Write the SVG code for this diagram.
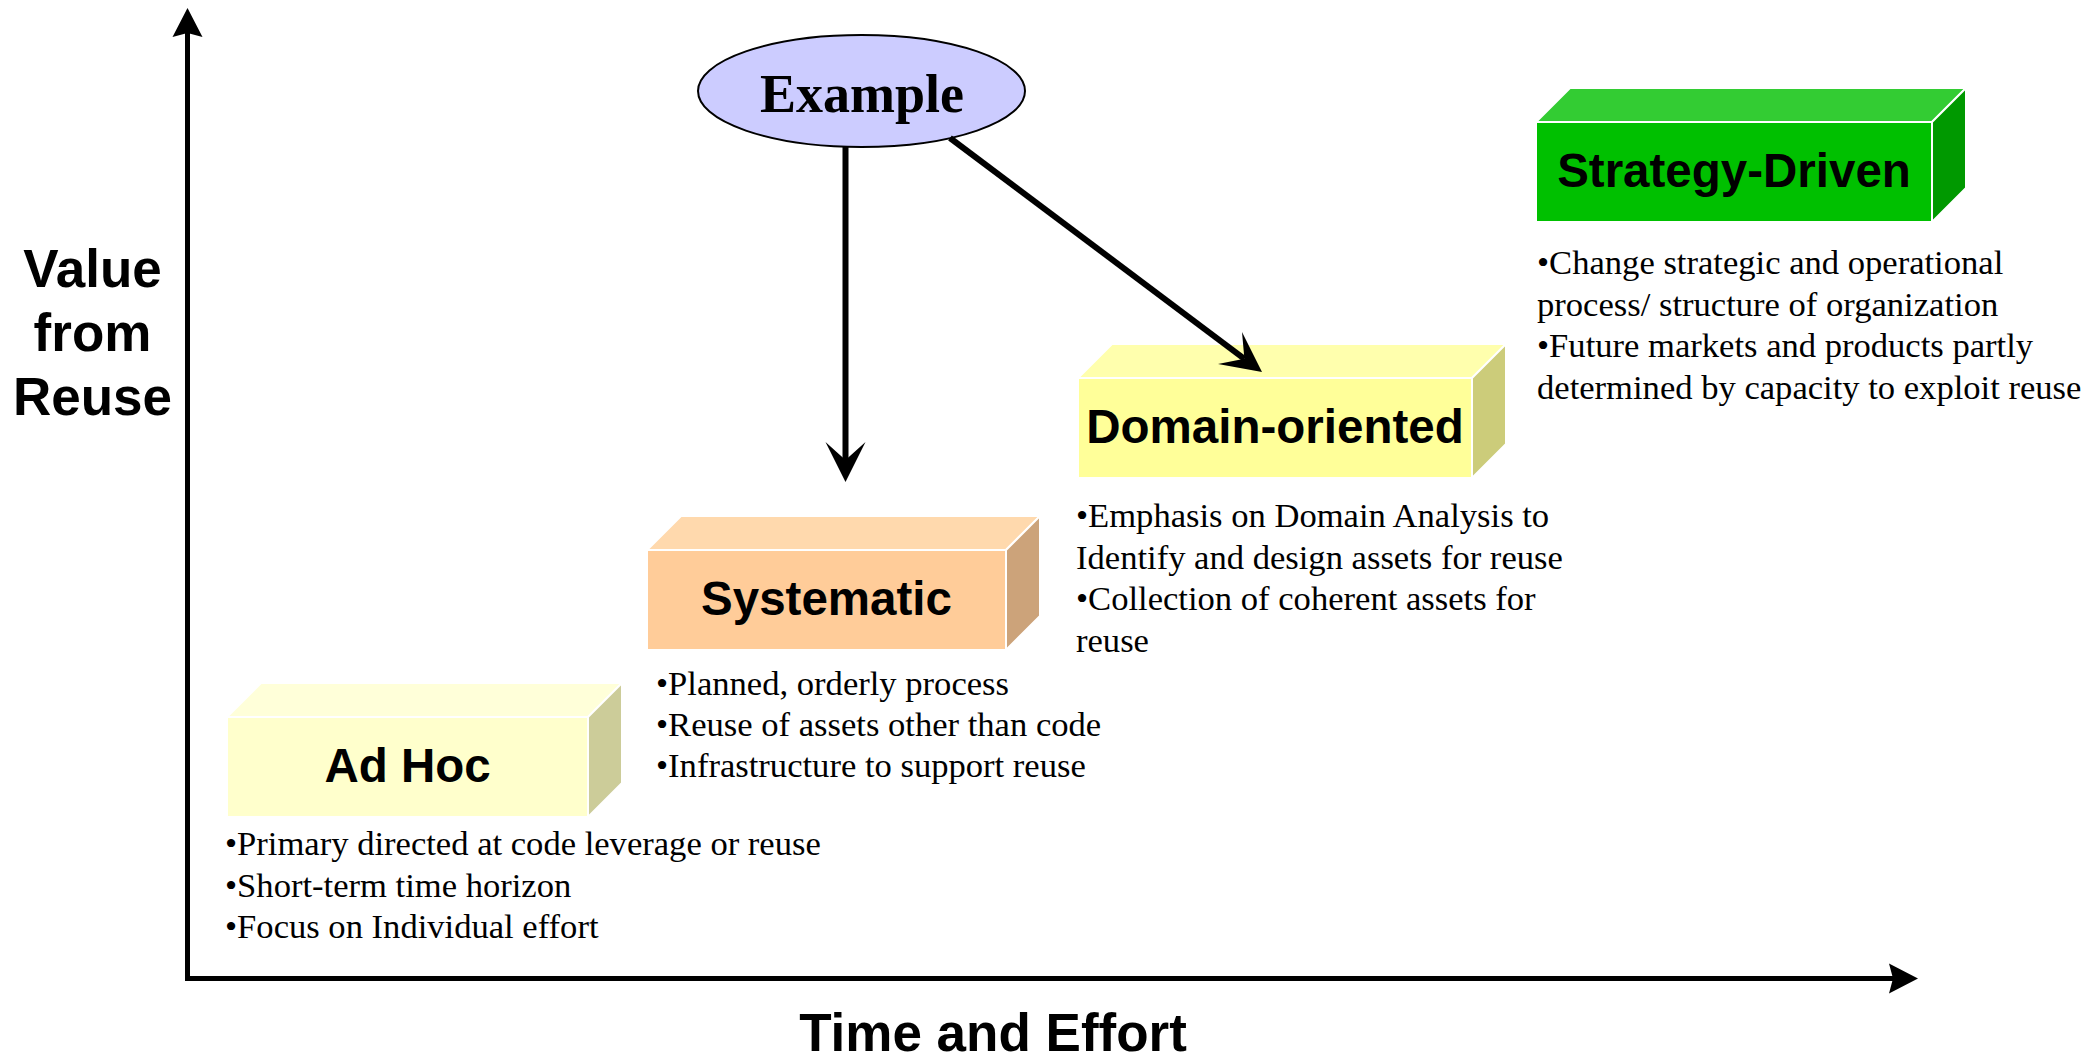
<svg xmlns="http://www.w3.org/2000/svg" width="2093" height="1059" viewBox="0 0 2093 1059">
  <style>
    .face { stroke: #FFFFFF; stroke-width: 2; stroke-linejoin: round; }
    .label { font-family: "Liberation Sans", Arial, sans-serif; font-weight: bold; font-size: 47.5px; fill: #000; text-anchor: middle; }
    .axis-label { font-family: "Liberation Sans", Arial, sans-serif; font-weight: bold; font-size: 53px; fill: #000; text-anchor: middle; }
    .bullet { font-family: "Liberation Serif", "Times New Roman", serif; font-size: 34.6px; fill: #000; }
    .axis { stroke: #000; stroke-width: 5; fill: none; }
    .conn { stroke: #000; stroke-width: 6; fill: none; }
  </style>
  <defs>
    <marker id="axisHead" markerUnits="userSpaceOnUse" markerWidth="60" markerHeight="60" refX="0" refY="0" orient="auto" overflow="visible">
      <path d="M-19,-15 L10,0 L-19,15 L-15,0 Z" fill="#000"/>
    </marker>
    <marker id="stealth" markerUnits="userSpaceOnUse" markerWidth="80" markerHeight="80" refX="0" refY="0" orient="auto" overflow="visible">
      <path d="M-18,-20 L22,0 L-18,20 L0,0 Z" fill="#000"/>
    </marker>
  </defs>

  <rect width="2093" height="1059" fill="#FFFFFF"/>

  <g id="axes">
    <line class="axis" x1="187.5" y1="981" x2="187.5" y2="18" marker-end="url(#axisHead)"/>
    <line class="axis" x1="185" y1="978.5" x2="1908" y2="978.5" marker-end="url(#axisHead)"/>
    <text class="axis-label" x="92.5" y="287">Value</text>
    <text class="axis-label" x="92.5" y="351">from</text>
    <text class="axis-label" x="92.5" y="415">Reuse</text>
    <text class="axis-label" x="993" y="1051" font-size="55">Time and Effort</text>
  </g>

  <g id="node-example">
    <ellipse cx="861.5" cy="91" rx="163.5" ry="56" fill="#CCCCFF" stroke="#000" stroke-width="2"/>
    <text x="862" y="112" font-family="Liberation Serif, 'Times New Roman', serif" font-weight="bold" font-size="54" text-anchor="middle" fill="#000">Example</text>
  </g>

  <g id="node-adhoc">
    <polygon class="face" points="227,717 261,683 622,683 588,717" fill="#FFFFD9"/>
    <polygon class="face" points="588,717 622,683 622,783 588,817" fill="#CCCC99"/>
    <rect class="face" x="227" y="717" width="361" height="100" fill="#FFFFCC"/>
    <text class="label" x="407.5" y="782">Ad Hoc</text>
    <text class="bullet" x="225" y="855">•Primary directed at code leverage or reuse</text>
    <text class="bullet" x="225" y="897">•Short-term time horizon</text>
    <text class="bullet" x="225" y="938">•Focus on Individual effort</text>
  </g>

  <g id="node-systematic">
    <polygon class="face" points="647,550 681,516 1040,516 1006,550" fill="#FFD9AD"/>
    <polygon class="face" points="1006,550 1040,516 1040,616 1006,650" fill="#CCA37A"/>
    <rect class="face" x="647" y="550" width="359" height="100" fill="#FFCC99"/>
    <text class="label" x="826.5" y="615">Systematic</text>
    <text class="bullet" x="656" y="695">•Planned, orderly process</text>
    <text class="bullet" x="656" y="736">•Reuse of assets other than code</text>
    <text class="bullet" x="656" y="777">•Infrastructure to support reuse</text>
  </g>

  <g id="node-domain">
    <polygon class="face" points="1078,378 1112,344 1506,344 1472,378" fill="#FFFFAD"/>
    <polygon class="face" points="1472,378 1506,344 1506,444 1472,478" fill="#CCCC7A"/>
    <rect class="face" x="1078" y="378" width="394" height="100" fill="#FFFF99"/>
    <text class="label" x="1275" y="443">Domain-oriented</text>
    <text class="bullet" x="1076" y="527">•Emphasis on Domain Analysis to</text>
    <text class="bullet" x="1076" y="569">Identify and design assets for reuse</text>
    <text class="bullet" x="1076" y="610">•Collection of coherent assets for</text>
    <text class="bullet" x="1076" y="652">reuse</text>
  </g>

  <g id="node-strategy">
    <polygon class="face" points="1536,122 1570,88 1966,88 1932,122" fill="#33CC33"/>
    <polygon class="face" points="1932,122 1966,88 1966,188 1932,222" fill="#009900"/>
    <rect class="face" x="1536" y="122" width="396" height="100" fill="#00C000"/>
    <text class="label" x="1734" y="187">Strategy-Driven</text>
    <text class="bullet" x="1537" y="274">•Change strategic and operational</text>
    <text class="bullet" x="1537" y="316">process/ structure of organization</text>
    <text class="bullet" x="1537" y="357">•Future markets and products partly</text>
    <text class="bullet" x="1537" y="399">determined by capacity to exploit reuse</text>
  </g>

  <g id="connectors">
    <line class="conn" x1="845.5" y1="147" x2="845.5" y2="460" marker-end="url(#stealth)"/>
    <line class="conn" x1="950" y1="138" x2="1244.4" y2="358.8" marker-end="url(#stealth)"/>
  </g>
</svg>
